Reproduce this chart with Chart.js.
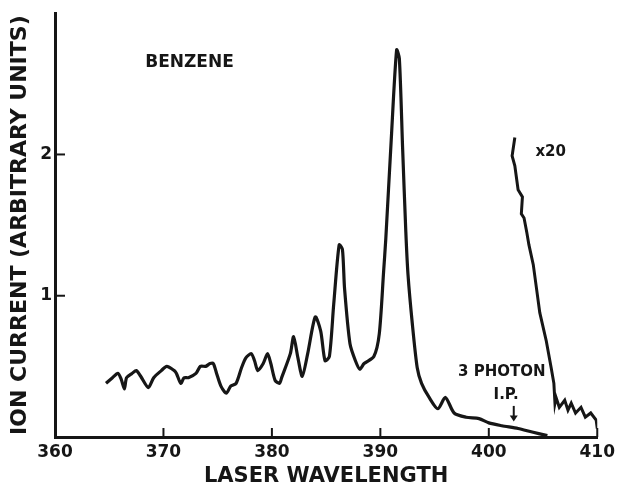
<!DOCTYPE html>
<html>
<head>
<meta charset="utf-8">
<script src="https://cdn.jsdelivr.net/npm/chart.js@4.4.1/dist/chart.umd.min.js"></script>
<style>
  html, body { margin: 0; padding: 0; background: #fff; }
  #wrap { width: 620px; height: 486px; }
</style>
</head>
<body>
<div id="wrap"><canvas id="myChart" width="620" height="486"></canvas></div>
<script>
// benzene ion current vs laser wavelength
var wavelength = [364.7, 365.3, 365.8, 366.1, 366.4, 366.6, 367.1, 367.5, 367.9, 368.6,
  369.1, 369.8, 370.3, 371.0, 371.2, 371.6, 371.9, 372.3, 373.0, 373.4,
  373.9, 374.3, 374.6, 374.9, 375.3, 375.8, 376.2, 376.7, 377.2, 377.6,
  378.1, 378.4, 378.7, 379.2, 379.6, 379.9, 380.3, 380.7, 380.9, 381.7,
  382.0, 382.4, 382.8, 383.3, 384.0, 384.5, 384.9, 385.3, 385.7, 386.2,
  386.5, 386.7, 387.2, 387.7, 388.1, 388.5, 389.4, 389.9, 390.3, 390.5,
  391.0, 391.5, 391.75, 392.05, 392.35, 392.55, 392.95, 393.4, 393.8, 394.5,
  395.3, 396.0, 396.8, 397.9, 399.1, 400.0, 401.2, 402.7, 404.0, 405.4];
var ionCurrent = [0.38, 0.42, 0.45, 0.41, 0.34, 0.42, 0.45, 0.47, 0.43, 0.35,
  0.42, 0.47, 0.50, 0.47, 0.45, 0.38, 0.42, 0.42, 0.45, 0.50,
  0.50, 0.52, 0.52, 0.45, 0.36, 0.31, 0.36, 0.38, 0.49, 0.56,
  0.59, 0.54, 0.47, 0.52, 0.59, 0.52, 0.40, 0.38, 0.42, 0.59,
  0.71, 0.56, 0.43, 0.59, 0.85, 0.75, 0.54, 0.57, 0.94, 1.36,
  1.33, 1.05, 0.66, 0.54, 0.48, 0.52, 0.57, 0.73, 1.17, 1.40,
  2.10, 2.74, 2.68, 2.05, 1.45, 1.15, 0.80, 0.49, 0.38, 0.28,
  0.20, 0.28, 0.17, 0.14, 0.13, 0.10, 0.08, 0.06, 0.035, 0.01];

// same signal multiplied by 20 near the 3 photon I.P.
var wavelengthX20 = [402.4, 402.15, 402.4, 402.7, 403.1, 403.0, 403.25, 403.5, 403.7, 404.1,
  404.4, 404.7, 405.3, 405.75, 406.0, 406.1, 406.2, 406.5, 407.0, 407.3,
  407.6, 408.0, 408.5, 408.9, 409.4, 409.9, 410.0];
var ionCurrentX20 = [2.12, 1.99, 1.92, 1.75, 1.70, 1.58, 1.55, 1.45, 1.36, 1.22,
  1.05, 0.88, 0.68, 0.49, 0.38, 0.24, 0.28, 0.21, 0.26, 0.19,
  0.24, 0.17, 0.21, 0.14, 0.17, 0.12, 0.06];

var xTicks = [360, 370, 380, 390, 400, 410];
var yTicks = [1, 2];

var ink = '#161616';
var fontName = 'DejaVu Sans';
Chart.defaults.font.family = fontName;
Chart.defaults.color = ink;

function toPoints(xs, ys) {
  return xs.map(function (v, i) { return { x: v, y: ys[i] }; });
}

// inside tick marks and the hand lettered notes
var notesPlugin = {
  id: 'notes',
  afterDraw: function (chart) {
    var ctx = chart.ctx;
    var sx = chart.scales.x, sy = chart.scales.y;
    ctx.save();
    ctx.strokeStyle = ink;
    ctx.fillStyle = ink;
    ctx.lineWidth = 2;
    sx.ticks.forEach(function (t) {
      if (t.value === sx.min) return;
      var px = sx.getPixelForValue(t.value);
      ctx.beginPath();
      ctx.moveTo(px, sy.bottom);
      ctx.lineTo(px, sy.bottom - 9);
      ctx.stroke();
    });
    sy.ticks.forEach(function (t) {
      var py = sy.getPixelForValue(t.value);
      ctx.beginPath();
      ctx.moveTo(sx.left, py);
      ctx.lineTo(sx.left + 10, py);
      ctx.stroke();
    });

    ctx.textAlign = 'center';
    ctx.textBaseline = 'middle';
    ctx.font = 'bold 17px "' + fontName + '"';
    ctx.fillText('BENZENE', sx.getPixelForValue(372.4), sy.getPixelForValue(2.65));

    ctx.font = 'bold 15px "' + fontName + '"';
    ctx.textAlign = 'left';
    ctx.fillText('x20', sx.getPixelForValue(404.3), sy.getPixelForValue(2.02));

    ctx.textAlign = 'center';
    ctx.fillText('3 PHOTON', sx.getPixelForValue(401.2), sy.getPixelForValue(0.46));
    ctx.fillText('I.P.', sx.getPixelForValue(401.6), sy.getPixelForValue(0.30));

    // arrow to the I.P.
    var ax = sx.getPixelForValue(402.3);
    var a0 = sy.getPixelForValue(0.22), a1 = sy.getPixelForValue(0.11);
    ctx.lineWidth = 2;
    ctx.beginPath();
    ctx.moveTo(ax, a0);
    ctx.lineTo(ax, a1 - 4);
    ctx.stroke();
    ctx.beginPath();
    ctx.moveTo(ax - 4, a1 - 6);
    ctx.lineTo(ax + 4, a1 - 6);
    ctx.lineTo(ax, a1);
    ctx.closePath();
    ctx.fill();
    ctx.restore();
  }
};

var ctx = document.getElementById('myChart');
new Chart(ctx, {
  type: 'line',
  data: {
    datasets: [{
      label: 'Ion current',
      data: toPoints(wavelength, ionCurrent),
      borderColor: ink,
      borderWidth: 3.2,
      pointRadius: 0,
      tension: 0.25,
      fill: false
    }, {
      label: 'x20',
      data: toPoints(wavelengthX20, ionCurrentX20),
      borderColor: ink,
      borderWidth: 3,
      pointRadius: 0,
      tension: 0,
      fill: false
    }]
  },
  options: {
    responsive: false,
    animation: false,
    devicePixelRatio: 1,
    layout: { padding: { top: 11, right: 18, left: 0, bottom: 0 } },
    plugins: {
      legend: { display: false },
      tooltip: { enabled: false }
    },
    scales: {
      x: {
        type: 'linear',
        min: 360,
        max: 410,
        afterBuildTicks: function (scale) {
          scale.ticks = xTicks.map(function (v) { return { value: v }; });
        },
        afterFit: function (scale) { scale.height = 49; },
        ticks: {
          autoSkip: false,
          maxRotation: 0,
          padding: 5,
          color: ink,
          font: { size: 17, weight: 'bold' }
        },
        grid: { display: false, drawTicks: false },
        border: { display: true, color: ink, width: 3 },
        title: {
          display: true,
          text: 'LASER WAVELENGTH',
          color: ink,
          font: { size: 21, weight: 'bold' },
          padding: { top: -3, bottom: -3 }
        }
      },
      y: {
        min: 0,
        max: 3,
        afterBuildTicks: function (scale) {
          scale.ticks = yTicks.map(function (v) { return { value: v }; });
        },
        afterFit: function (scale) { scale.width = 55; },
        ticks: {
          padding: 3,
          color: ink,
          font: { size: 17, weight: 'bold' }
        },
        grid: { display: false, drawTicks: false },
        border: { display: true, color: ink, width: 3 },
        title: {
          display: true,
          text: 'ION CURRENT (ARBITRARY UNITS)',
          color: ink,
          font: { size: 22, weight: 'bold' },
          padding: { top: 7, bottom: 0 }
        }
      }
    }
  },
  plugins: [notesPlugin]
});
</script>
</body>
</html>
